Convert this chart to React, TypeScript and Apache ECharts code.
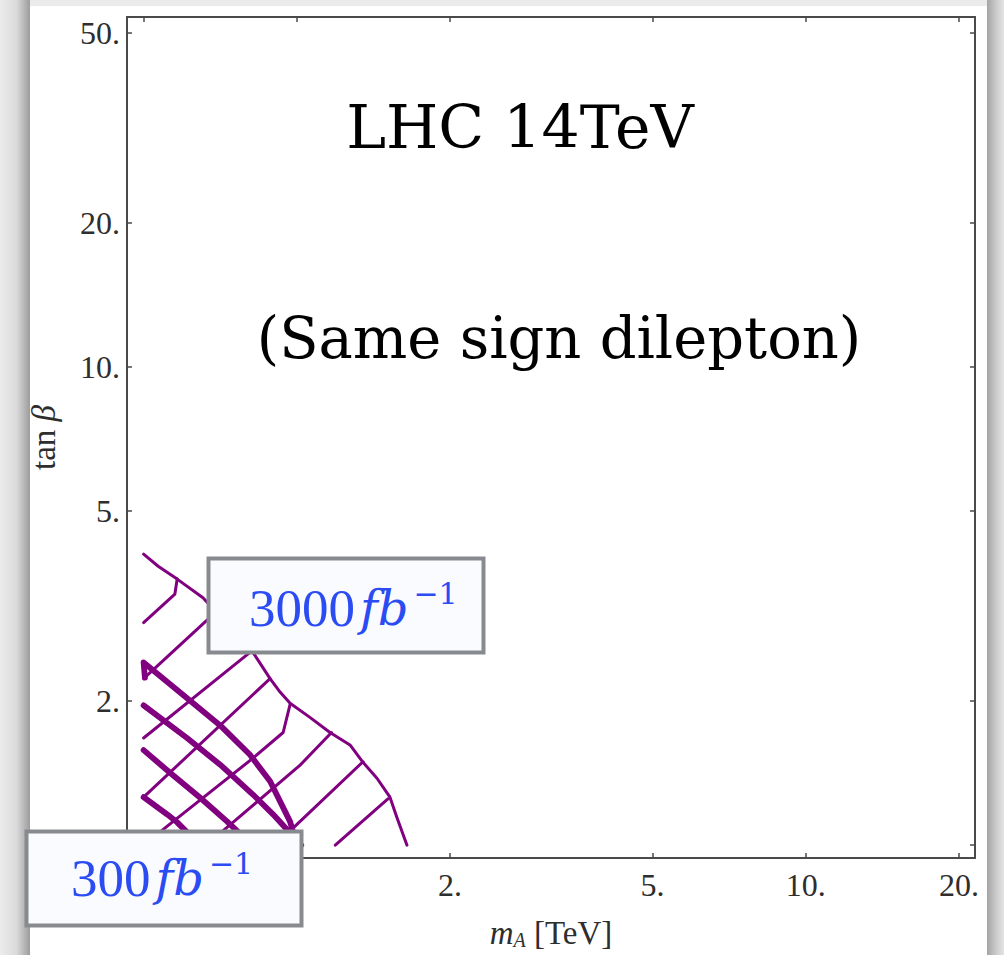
import React, { useEffect, useRef } from "react";
import * as echarts from "echarts";

// ---- axes ----
const xTickValues = [0.5, 1, 2, 5, 10, 20];
const yTickValues = [1, 2, 5, 10, 20, 50];
// labels that are not hidden behind the annotation boxes
const xLabelValues = [2, 5, 10, 20];
const yLabelValues = [2, 5, 10, 20, 50];
const xRange = [0.4638, 21.5];
const yRange = [0.94, 53.9];

// ---- 3000 fb^-1 region (thin purple hatching) : [m_A (TeV), tan beta] ----
const boundary3000 = [
  [0.5, 4.06], [0.534, 3.83], [0.582, 3.6], [0.654, 3.29], [0.82, 2.53],
  [0.886, 2.23], [0.927, 2.09], [0.97, 1.98], [1.061, 1.85], [1.162, 1.72],
  [1.272, 1.62], [1.349, 1.49], [1.437, 1.38], [1.524, 1.26], [1.574, 1.14],
  [1.646, 1.0],
];
const hatch3000A = [[0.582, 3.6], [0.576, 3.35], [0.5, 2.92]];
const hatch3000B = [[0.5, 2.23], [0.681, 3.02]];
const hatch3000C = [[0.5, 1.675], [0.809, 2.53]];
const hatch3000D = [[0.5, 1.26], [0.886, 2.23]];
const hatch3000E = [[0.5, 1.0], [0.5685, 1.116], [0.82, 1.52], [0.94, 1.72], [0.97, 1.97]];
const hatch3000F = [[0.663, 1.0], [0.749, 1.116], [1.015, 1.47], [1.17, 1.72]];
const hatch3000G = [[0.906, 1.0], [1.015, 1.121], [1.349, 1.494]];
const hatch3000H = [[1.19, 1.0], [1.51, 1.25]];

// ---- 300 fb^-1 region (thick purple hatching) ----
const boundary300 = [
  [0.503, 2.24], [0.5, 2.41], [0.598, 2.06], [0.707, 1.78], [0.809, 1.545],
  [0.886, 1.36], [0.97, 1.12], [1.0, 1.0],
];
const hatch300A = [[0.5, 1.96], [0.6085, 1.675], [0.707, 1.473], [0.82, 1.276], [0.898, 1.16], [1.02, 1.0]];
const hatch300B = [[0.5, 1.58], [0.5635, 1.417], [0.645, 1.258], [0.729, 1.121], [0.817, 1.0]];
const hatch300C = [[0.5, 1.26], [0.556, 1.16], [0.582, 1.116], [0.645, 1.0]];

const thinLines = [boundary3000, hatch3000A, hatch3000B, hatch3000C, hatch3000D, hatch3000E, hatch3000F, hatch3000G, hatch3000H];
const thickLines = [boundary300, hatch300A, hatch300B, hatch300C];

const PURPLE = "#800080";
const FRAME = "#4a4a4a";
const LABEL = "#2e2e2e";
const BLUE = "#2b4cf2";

const fmt = (v: number) => (Number.isInteger(v) ? `${v}.` : `${v}`);

export default function App() {
  const ref = useRef<HTMLDivElement>(null);
  useEffect(() => {
    if (!ref.current) return;
    const chart = echarts.init(ref.current, undefined, { renderer: "svg" });
    const lineS = (data: number[][], width: number) => ({
      type: "line",
      data,
      xAxisIndex: 0,
      yAxisIndex: 0,
      showSymbol: false,
      symbol: "none",
      silent: true,
      z: 3,
      lineStyle: { color: PURPLE, width, cap: "round", join: "round" },
    });
    const axisLine = { show: true, lineStyle: { color: FRAME, width: 2 } };
    const axisTickStyle = { color: FRAME, width: 1.5 };
    const labelFont = { fontFamily: "Liberation Serif", fontSize: 32, color: LABEL };
    const nameRich = {
      i: { fontFamily: "Liberation Serif", fontStyle: "italic", fontSize: 33, color: LABEL },
      s: { fontFamily: "Liberation Serif", fontStyle: "italic", fontSize: 20, color: LABEL, padding: [15, 0, 0, 0] },
      n: { fontFamily: "Liberation Serif", fontSize: 33, color: LABEL },
    };
    const supRich = {
      n: { fontFamily: "Liberation Serif", fontSize: 53, lineHeight: 60, fill: BLUE, color: BLUE },
      i: { fontFamily: "DejaVu Serif", fontStyle: "italic", fontSize: 48, lineHeight: 60, fill: BLUE, color: BLUE, padding: [0, 0, 0, 5] },
      s: { fontFamily: "DejaVu Serif", fontSize: 30, lineHeight: 32, verticalAlign: "top", fill: BLUE, color: BLUE, padding: [0, 0, 0, 5] },
    };
    const option: any = {
      animation: false,
      backgroundColor: "#ffffff",
      grid: { left: 127, right: 29, top: 17, bottom: 90, containLabel: false },
      xAxis: [
        {
          type: "log", logBase: 10, min: xRange[0], max: xRange[1], position: "bottom",
          axisLine, splitLine: { show: false }, minorTick: { show: false },
          axisTick: { show: true, inside: true, length: 5, lineStyle: axisTickStyle, customValues: xTickValues },
          axisLabel: { ...labelFont, margin: 11, formatter: fmt, customValues: xLabelValues },
          name: "{i|m}{s|A}{n| [TeV]}", nameLocation: "middle", nameGap: 57,
          nameTextStyle: { rich: nameRich },
        },
        {
          type: "log", logBase: 10, min: xRange[0], max: xRange[1], position: "top",
          axisLine, splitLine: { show: false },
          axisTick: { show: true, inside: true, length: 5, lineStyle: axisTickStyle, customValues: xTickValues },
          axisLabel: { show: false, customValues: xTickValues },
        },
      ],
      yAxis: [
        {
          type: "log", logBase: 10, min: yRange[0], max: yRange[1], position: "left",
          axisLine, splitLine: { show: false }, minorTick: { show: false },
          axisTick: { show: true, inside: true, length: 5, lineStyle: axisTickStyle, customValues: yTickValues },
          axisLabel: { ...labelFont, margin: 7, formatter: fmt, customValues: yLabelValues },
          name: "{n|tan }{i|β}", nameLocation: "middle", nameGap: 67,
          nameTextStyle: { rich: nameRich },
        },
        {
          type: "log", logBase: 10, min: yRange[0], max: yRange[1], position: "right",
          axisLine, splitLine: { show: false },
          axisTick: { show: true, inside: true, length: 5, lineStyle: axisTickStyle, customValues: yTickValues },
          axisLabel: { show: false, customValues: yTickValues },
        },
      ],
      series: [
        ...thinLines.map((d) => lineS(d, 3)),
        ...thickLines.map((d) => lineS(d, 5.8)),
      ],
      graphic: [
        // page shadow frame
        { type: "rect", z: -20, silent: true, shape: { x: 0, y: 0, width: 1004, height: 6 }, style: { fill: "#ebebeb" } },
        {
          type: "rect", z: -19, silent: true, shape: { x: 0, y: 0, width: 30, height: 955 },
          style: {
            fill: new echarts.graphic.LinearGradient(0, 0, 1, 0, [
              { offset: 0, color: "#ececec" }, { offset: 0.55, color: "#dadada" }, { offset: 1, color: "#9c9c9c" },
            ]),
          },
        },
        {
          type: "rect", z: -19, silent: true, shape: { x: 987, y: 0, width: 17, height: 955 },
          style: {
            fill: new echarts.graphic.LinearGradient(0, 0, 1, 0, [
              { offset: 0, color: "#a4a4a4" }, { offset: 0.5, color: "#c9c9c9" }, { offset: 1, color: "#e4e4e4" },
            ]),
          },
        },
        // titles
        {
          type: "text", z: 50, silent: true, x: 520, y: 127,
          style: { text: "LHC 14TeV", fontFamily: "DejaVu Serif", fontSize: 60, fill: "#000", align: "center", verticalAlign: "middle" },
        },
        {
          type: "text", z: 50, silent: true, x: 559, y: 338,
          style: { text: "(Same sign dilepton)", fontFamily: "DejaVu Serif", fontSize: 57.5, fill: "#000", align: "center", verticalAlign: "middle" },
        },
        // 3000 fb^-1 box
        {
          type: "rect", z: 100, silent: true, shape: { x: 208.5, y: 558.5, width: 275, height: 94 },
          style: { fill: "#fafbff", stroke: "#878b90", lineWidth: 4 },
        },
        {
          type: "text", z: 101, silent: true, x: 249, y: 608,
          style: { text: "{n|3000}{i|fb}{s|−1}", rich: supRich, verticalAlign: "middle", align: "left" },
        },
        // 300 fb^-1 box
        {
          type: "rect", z: 100, silent: true, shape: { x: 26.5, y: 831.5, width: 275, height: 94 },
          style: { fill: "#fafbff", stroke: "#878b90", lineWidth: 4 },
        },
        {
          type: "text", z: 101, silent: true, x: 71, y: 878,
          style: { text: "{n|300}{i|fb}{s|−1}", rich: supRich, verticalAlign: "middle", align: "left" },
        },
      ],
    };
    chart.setOption(option);
    return () => chart.dispose();
  }, []);
  return (
    <div
      ref={ref}
      style={{ position: "fixed", left: 0, top: 0, width: 1004, height: 955 }}
    />
  );
}
